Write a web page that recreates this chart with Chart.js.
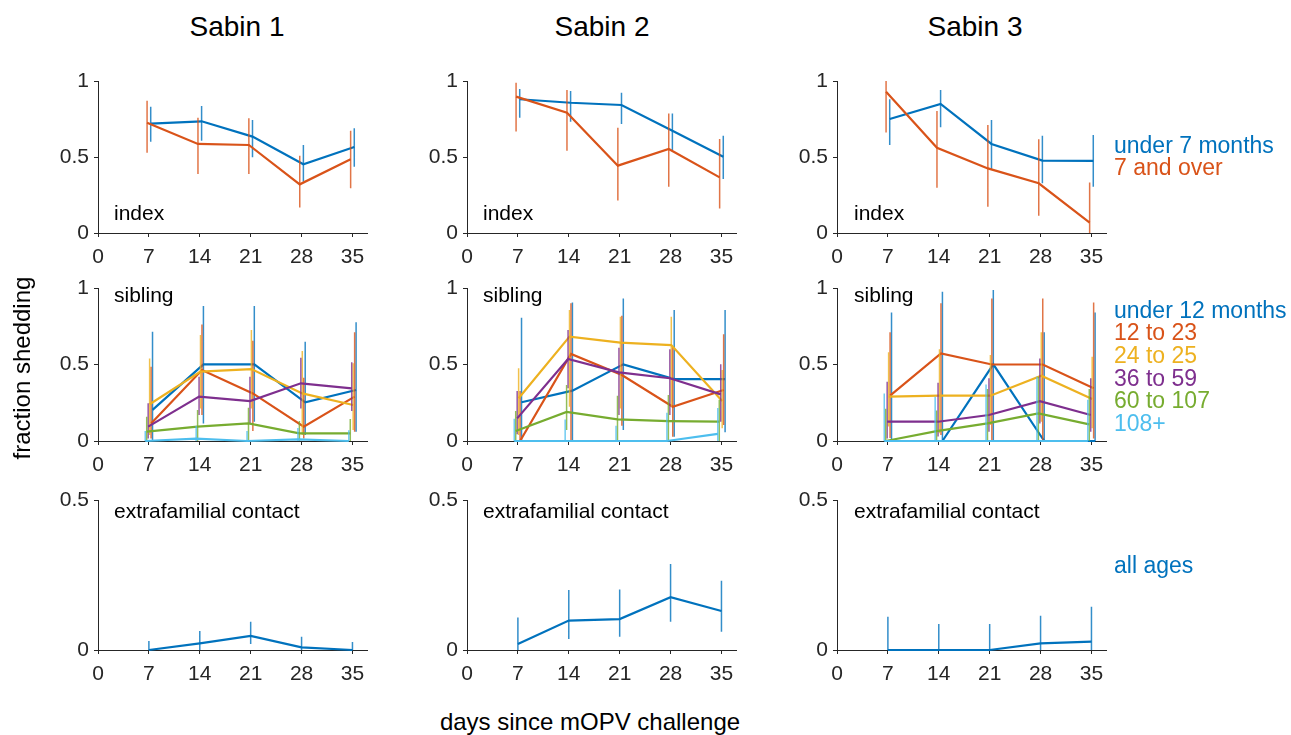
<!DOCTYPE html>
<html>
<head>
<meta charset="utf-8">
<script src="https://cdn.jsdelivr.net/npm/chart.js@4.4.1/dist/chart.umd.min.js"></script>
<style>
  body { margin: 0; background: #fff; width: 1291px; height: 735px; position: relative; overflow: hidden;
         font-family: "Liberation Sans", Arial, Helvetica, sans-serif; color: #000; }
  canvas { position: absolute; }
  .t { position: absolute; white-space: nowrap; line-height: 1; }
</style>
</head>
<body>
<script>
// ---- data -------------------------------------------------------
const days = [7, 14, 21, 28, 35];
const xTicks = [0, 7, 14, 21, 28, 35];
const yTicksFull = [0, 0.5, 1];
const yTicksHalf = [0, 0.5];
const sabinTitles = ['Sabin 1', 'Sabin 2', 'Sabin 3'];
const rowLabels = ['index', 'sibling', 'extrafamilial contact'];
const indexGroups = ['under 7 months', '7 and over'];
const siblingGroups = ['under 12 months', '12 to 23', '24 to 25', '36 to 59', '60 to 107', '108+'];
const contactGroups = ['all ages'];
const seriesColors = ['#0072BD', '#D95319', '#EDB120', '#7E2F8E', '#77AC30', '#4DBEEE'];

// small horizontal dodge of each series (days)
const indexOffsets = [0.25, -0.25];
const siblingOffsets = [0.5, 0.3, 0.1, -0.1, -0.3, -0.5];
const contactOffsets = [0];

// index children
const s1IndexMean = [[0.72, 0.735, 0.634, 0.452, 0.566], [0.726, 0.586, 0.579, 0.32, 0.485]];
const s1IndexLo   = [[0.60, 0.607, 0.498, 0.338, 0.436], [0.528, 0.388, 0.388, 0.167, 0.294]];
const s1IndexHi   = [[0.83, 0.835, 0.743, 0.579, 0.689], [0.87, 0.759, 0.755, 0.509, 0.673]];

const s2IndexMean = [[0.88, 0.857, 0.842, 0.673, 0.502], [0.897, 0.792, 0.443, 0.553, 0.366]];
const s2IndexLo   = [[0.759, 0.732, 0.717, 0.546, 0.355], [0.667, 0.541, 0.213, 0.305, 0.162]];
const s2IndexHi   = [[0.947, 0.934, 0.923, 0.787, 0.64], [0.989, 0.941, 0.693, 0.787, 0.618]];

const s3IndexMean = [[0.75, 0.849, 0.586, 0.476, 0.474], [0.93, 0.561, 0.425, 0.327, 0.068]];
const s3IndexLo   = [[0.579, 0.695, 0.421, 0.327, 0.305], [0.662, 0.298, 0.173, 0.114, 0]];
const s3IndexHi   = [[0.88, 0.941, 0.743, 0.64, 0.645], [1.0, 0.803, 0.711, 0.616, 0.333]];

// siblings by age group
const s1SibMean = [
  [0.203, 0.501, 0.501, 0.253, 0.333],
  [0.115, 0.464, 0.311, 0.094, 0.29],
  [0.24, 0.453, 0.47, 0.311, 0.235],
  [0.094, 0.29, 0.261, 0.377, 0.344],
  [0.061, 0.094, 0.115, 0.05, 0.05],
  [0, 0.015, 0, 0.01, 0]];
const s1SibLo = [
  [0, 0.115, 0.126, 0.04, 0.061],
  [0.017, 0.17, 0.065, 0.017, 0.061],
  [0.039, 0.213, 0.213, 0.039, 0.072],
  [0.017, 0.17, 0.115, 0.213, 0.196],
  [0, 0, 0, 0, 0],
  [0, 0, 0, 0, 0]];
const s1SibHi = [
  [0.714, 0.882, 0.882, 0.649, 0.776],
  [0.486, 0.762, 0.656, 0.414, 0.71],
  [0.54, 0.693, 0.725, 0.588, 0.508],
  [0.246, 0.42, 0.42, 0.544, 0.514],
  [0.159, 0.203, 0.218, 0.13, 0.144],
  [0.065, 0.098, 0.065, 0.085, 0.07]];

const s2SibMean = [
  [0.253, 0.329, 0.501, 0.405, 0.405],
  [0, 0.569, 0.431, 0.224, 0.333],
  [0.279, 0.682, 0.643, 0.627, 0.261],
  [0.148, 0.536, 0.449, 0.41, 0.305],
  [0.065, 0.19, 0.141, 0.13, 0.126],
  [0, 0, 0, 0, 0.046]];
const s2SibLo = [
  [0, 0, 0.072, 0.028, 0.057],
  [0, 0, 0.1, 0.028, 0.105],
  [0.039, 0.224, 0.213, 0.224, 0.083],
  [0.044, 0.344, 0.17, 0.17, 0.126],
  [0, 0.072, 0, 0, 0],
  [0, 0, 0, 0, 0]];
const s2SibHi = [
  [0.806, 0.906, 0.932, 0.856, 0.856],
  [0.327, 0.9, 0.819, 0.616, 0.697],
  [0.475, 0.856, 0.812, 0.812, 0.464],
  [0.327, 0.725, 0.61, 0.6, 0.501],
  [0.196, 0.366, 0.296, 0.3, 0.27],
  [0.146, 0.14, 0.1, 0.185, 0.216]];

const s3SibMean = [
  [0, 0, 0.501, 0, 0],
  [0.296, 0.573, 0.5, 0.5, 0.344],
  [0.29, 0.296, 0.296, 0.427, 0.275],
  [0.126, 0.126, 0.17, 0.261, 0.17],
  [0, 0.065, 0.115, 0.18, 0.109],
  [0, 0, 0, 0, 0]];
const s3SibLo = [
  [0, 0, 0, 0, 0],
  [0.02, 0.04, 0, 0, 0.017],
  [0.094, 0.05, 0.105, 0.126, 0.083],
  [0.017, 0.03, 0.06, 0.115, 0.06],
  [0, 0, 0, 0, 0],
  [0, 0, 0, 0, 0]];
const s3SibHi = [
  [0.84, 0.976, 0.987, 0.71, 0.84],
  [0.71, 0.9, 0.932, 0.932, 0.906],
  [0.58, 0.6, 0.562, 0.71, 0.551],
  [0.388, 0.38, 0.41, 0.54, 0.41],
  [0.21, 0.2, 0.34, 0.42, 0.34],
  [0.31, 0.29, 0.37, 0.42, 0.27]];

// extrafamilial contacts, all ages
const s1ContactMean = [[0, 0.022, 0.047, 0.009, 0]];
const s1ContactLo   = [[0, 0, 0.02, 0, 0]];
const s1ContactHi   = [[0.03, 0.063, 0.094, 0.044, 0.027]];
const s2ContactMean = [[0.02, 0.098, 0.103, 0.176, 0.13]];
const s2ContactLo   = [[0, 0.037, 0.044, 0.094, 0.061]];
const s2ContactHi   = [[0.108, 0.2, 0.202, 0.287, 0.231]];
const s3ContactMean = [[0, 0, 0, 0.022, 0.028]];
const s3ContactLo   = [[0, 0, 0, 0, 0]];
const s3ContactHi   = [[0.111, 0.087, 0.087, 0.114, 0.144]];

// ---- layout -----------------------------------------------------
const colLeft = [98, 467, 837];
const rowTop = [81, 288, 500];
const rowBottom = [233, 441, 650];
const plotW = 269;
const AXW = 50, AXH = 40, PAD = 22;
const fontFam = '"Liberation Sans", Arial, Helvetica, sans-serif';
const axisColor = '#262626';

const panels = [
  { col: 0, row: 0, mean: s1IndexMean, lo: s1IndexLo, hi: s1IndexHi, off: indexOffsets, yTicks: yTicksFull },
  { col: 1, row: 0, mean: s2IndexMean, lo: s2IndexLo, hi: s2IndexHi, off: indexOffsets, yTicks: yTicksFull },
  { col: 2, row: 0, mean: s3IndexMean, lo: s3IndexLo, hi: s3IndexHi, off: indexOffsets, yTicks: yTicksFull },
  { col: 0, row: 1, mean: s1SibMean, lo: s1SibLo, hi: s1SibHi, off: siblingOffsets, yTicks: yTicksFull },
  { col: 1, row: 1, mean: s2SibMean, lo: s2SibLo, hi: s2SibHi, off: siblingOffsets, yTicks: yTicksFull },
  { col: 2, row: 1, mean: s3SibMean, lo: s3SibLo, hi: s3SibHi, off: siblingOffsets, yTicks: yTicksFull },
  { col: 0, row: 2, mean: s1ContactMean, lo: s1ContactLo, hi: s1ContactHi, off: contactOffsets, yTicks: yTicksHalf },
  { col: 1, row: 2, mean: s2ContactMean, lo: s2ContactLo, hi: s2ContactHi, off: contactOffsets, yTicks: yTicksHalf },
  { col: 2, row: 2, mean: s3ContactMean, lo: s3ContactLo, hi: s3ContactHi, off: contactOffsets, yTicks: yTicksHalf }
];

function makePanel(p) {
  const plotH = rowBottom[p.row] - rowTop[p.row];
  const w = AXW + plotW + PAD, h = PAD + plotH + AXH;
  const cv = document.createElement('canvas');
  cv.width = w; cv.height = h;
  cv.style.width = w + 'px'; cv.style.height = h + 'px';
  cv.style.left = (colLeft[p.col] - AXW) + 'px';
  cv.style.top = (rowTop[p.row] - PAD) + 'px';
  document.body.appendChild(cv);

  const n = p.mean.length;
  const datasets = [];
  p.mean.forEach(function (m, i) {
    const c = seriesColors[i];
    const off = p.off[i];
    const bars = [];
    days.forEach(function (d, j) {
      bars.push({ x: d + off, y: p.lo[i][j] }, { x: d + off, y: p.hi[i][j] }, { x: d + off, y: null });
    });
    // error bars
    datasets.push({ data: bars, borderColor: c + 'cc', borderWidth: 1.5, pointRadius: 0,
                    spanGaps: false, clip: false, order: 2 * (n - i) + 1 });
    // mean line
    datasets.push({ data: days.map(function (d, j) { return { x: d + off, y: m[j] }; }),
                    borderColor: c, borderWidth: 2.2, pointRadius: 0, clip: false, order: 2 * (n - i) });
  });

  const tickFont = { family: fontFam, size: 21 };
  const chart = new Chart(cv, {
    type: 'line',
    data: { datasets: datasets },
    options: {
      responsive: false,
      animation: false,
      events: [],
      layout: { padding: { top: PAD, right: PAD, left: 0, bottom: 0 } },
      plugins: { legend: { display: false }, tooltip: { enabled: false } },
      elements: { line: { tension: 0 } },
      scales: {
        x: {
          type: 'linear', min: 0, max: 37,
          afterFit: function (s) { s.height = AXH; },
          afterBuildTicks: function (s) { s.ticks = xTicks.map(function (v) { return { value: v }; }); },
          ticks: { font: tickFont, color: axisColor, padding: 8, maxRotation: 0, autoSkip: false,
                   callback: function (v) { return String(v); } },
          grid: { drawOnChartArea: false, tickLength: 4, color: axisColor },
          border: { color: axisColor, width: 1 }
        },
        y: {
          min: 0, max: p.yTicks[p.yTicks.length - 1],
          afterFit: function (s) { s.width = AXW; },
          afterBuildTicks: function (s) { s.ticks = p.yTicks.map(function (v) { return { value: v }; }); },
          ticks: { font: tickFont, color: axisColor, padding: 5,
                   callback: function (v) { return String(v); } },
          grid: { drawOnChartArea: false, tickLength: 4, color: axisColor },
          border: { color: axisColor, width: 1 }
        }
      }
    }
  });
  // snap canvas so that the plot area sits where the axes are in the figure
  const a = chart.chartArea;
  cv.style.left = (colLeft[p.col] - a.left) + 'px';
  cv.style.top = (rowTop[p.row] - a.top) + 'px';
}

panels.forEach(makePanel);

// ---- text -------------------------------------------------------
function addText(txt, x, baseline, size, color, center) {
  const d = document.createElement('div');
  d.className = 't';
  d.textContent = txt;
  d.style.fontSize = size + 'px';
  d.style.color = color;
  d.style.left = x + 'px';
  d.style.top = (baseline - 0.8465 * size) + 'px';
  if (center) d.style.transform = 'translateX(-50%)';
  document.body.appendChild(d);
  return d;
}

const titleX = [237, 602, 975];
sabinTitles.forEach(function (t, i) { addText(t, titleX[i], 37, 28, '#000', true); });

const labelX = [114, 483, 854];
const labelBase = [220, 302, 518];
rowLabels.forEach(function (t, r) {
  labelX.forEach(function (x) { addText(t, x, labelBase[r], 21, '#000', false); });
});

indexGroups.forEach(function (t, i) { addText(t, 1114, 153 + i * 22.6, 23, seriesColors[i], false); });
siblingGroups.forEach(function (t, i) { addText(t, 1114, 318 + i * 22.7, 23, seriesColors[i], false); });
contactGroups.forEach(function (t, i) { addText(t, 1114, 573, 23, seriesColors[i], false); });

addText('days since mOPV challenge', 590, 730, 24, '#000', true);

const yl = document.createElement('div');
yl.className = 't';
yl.textContent = 'fraction shedding';
yl.style.fontSize = '24px';
yl.style.left = '22px';
yl.style.top = '368px';
yl.style.transform = 'translate(-50%, -50%) rotate(-90deg)';
document.body.appendChild(yl);
</script>
</body>
</html>
